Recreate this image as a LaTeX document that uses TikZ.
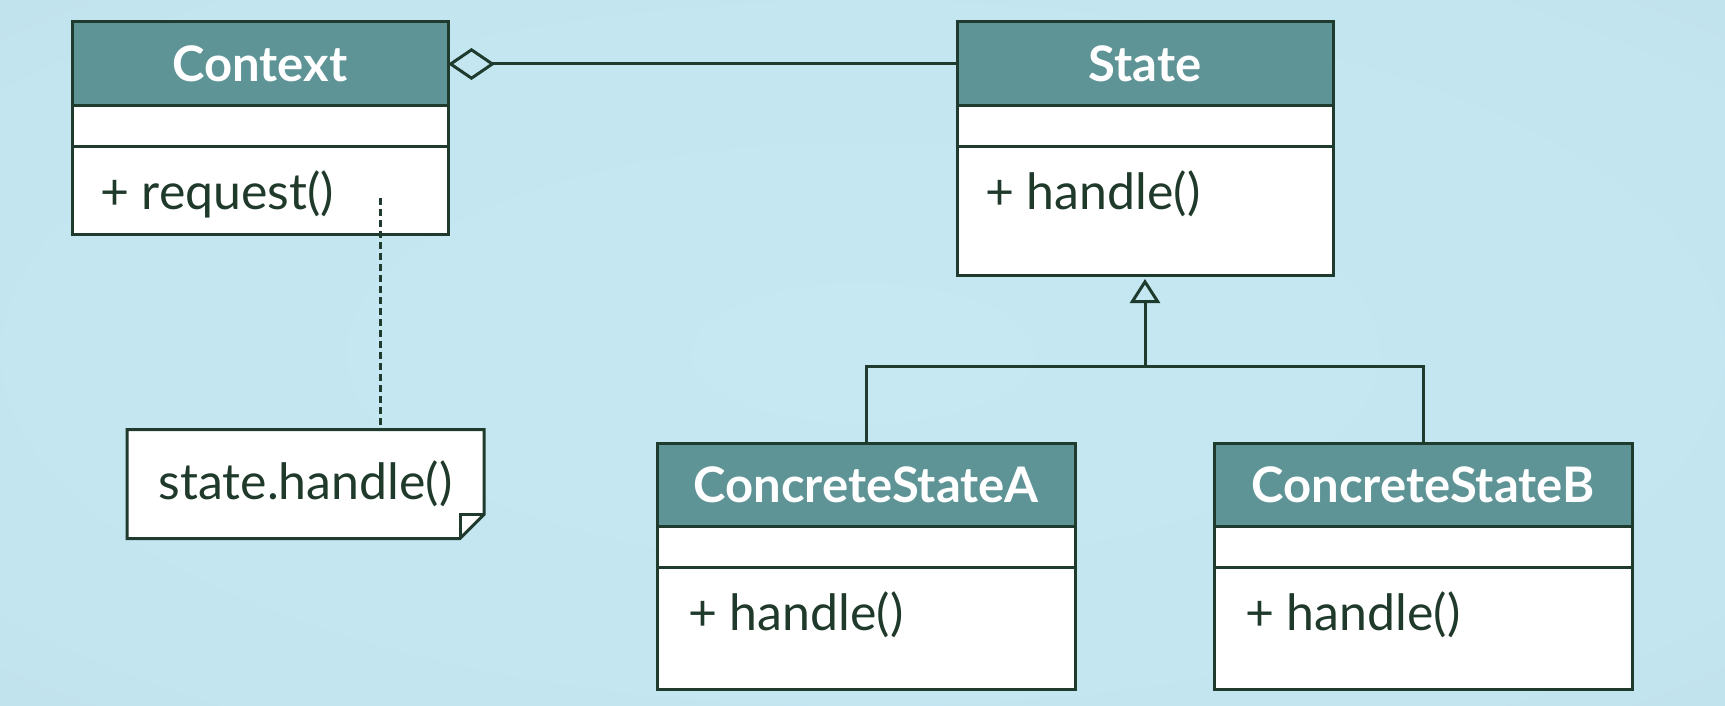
\documentclass[tikz,border=0pt]{standalone}
\usepackage{fontspec}
\setmainfont{Lato}
\usetikzlibrary{arrows.meta,calc,backgrounds}
\definecolor{linec}{HTML}{1E3B2D}
\definecolor{headc}{HTML}{5F9497}
\definecolor{textc}{HTML}{1F3A2B}
\definecolor{bgA}{HTML}{C6E8F3}
\definecolor{bgB}{HTML}{C3E5F0}
\definecolor{bgC}{HTML}{B9DAE5}
\definecolor{bgD}{HTML}{AFD0DB}
\pgfdeclareradialshading{bgshade}{\pgfpoint{0bp}{0bp}}{%
  color(0bp)=(bgA); color(30bp)=(bgB); color(55bp)=(bgC); color(72bp)=(bgD)}
\begin{document}
\begin{tikzpicture}[x=1pt,y=-1pt,
  every node/.style={inner sep=0pt, outer sep=0pt},
  headbox/.style={draw=linec, line width=3pt, fill=headc, text=white,
    font=\fontsize{49}{55}\selectfont\bfseries, anchor=north west},
  compbox/.style={draw=linec, line width=3pt, fill=white, anchor=north},
  optext/.style={text=textc, font=\fontsize{50}{56}\selectfont, anchor=base west},
  conn/.style={draw=linec, line width=3pt}
]
\useasboundingbox (0,0) rectangle (1725,706);

% Context
\node[headbox, minimum width=376pt, minimum height=84pt] (Ch) at (72,22) {Context};
\node[compbox, minimum width=376pt, minimum height=41pt] (Ca) at (Ch.south) {};
\node[compbox, minimum width=376pt, minimum height=87pt] (Cm) at (Ca.south) {};
\node[optext] (Ct) at ($(Cm.north west)+(28,62)$) {+ request()};

% State
\node[headbox, minimum width=376pt, minimum height=84pt] (Sh) at (957,22) {State};
\node[compbox, minimum width=376pt, minimum height=41pt] (Sa) at (Sh.south) {};
\node[compbox, minimum width=376pt, minimum height=128pt] (Sm) at (Sa.south) {};
\node[optext] (St) at ($(Sm.north west)+(28,62)$) {+ handle()};

% ConcreteStateA
\node[headbox, minimum width=418pt, minimum height=83pt] (Ah) at (657,443) {ConcreteStateA};
\node[compbox, minimum width=418pt, minimum height=41pt] (Aa) at (Ah.south) {};
\node[compbox, minimum width=418pt, minimum height=122pt] (Am) at (Aa.south) {};
\node[optext] (At) at ($(Am.north west)+(31,63)$) {+ handle()};

% ConcreteStateB
\node[headbox, minimum width=418pt, minimum height=83pt] (Bh) at (1214,443) {ConcreteStateB};
\node[compbox, minimum width=418pt, minimum height=41pt] (Ba) at (Bh.south) {};
\node[compbox, minimum width=418pt, minimum height=122pt] (Bm) at (Ba.south) {};
\node[optext] (Bt) at ($(Bm.north west)+(31,63)$) {+ handle()};

% Note
\node[minimum width=357pt, minimum height=109pt, text=textc,
  font=\fontsize{50}{56}\selectfont] (note) at (305.5,484) {state.handle()};
\begin{scope}[on background layer]
\shade[shading=bgshade] (0,0) rectangle (1725,706);
\draw[conn, fill=white, line join=miter] (note.north west) -- (note.north east)
  -- ([yshift=24pt]note.south east) -- ([xshift=-24pt]note.south east)
  -- (note.south west) -- cycle;
\draw[conn] ([xshift=-24pt]note.south east) -- ([xshift=-24pt,yshift=24pt]note.south east)
  -- ([yshift=24pt]note.south east);
\end{scope}

% aggregation
\draw[conn, -{Diamond[open, length=47pt, width=32pt, line width=3pt]}] (Sh.west) -- (Ch.east);

% dotted note link
\coordinate (cdot) at (380,198);
\draw[draw=linec, line width=3pt, dash pattern=on 7pt off 4pt] (cdot) -- (cdot |- note.north);

% inheritance
\coordinate (junc) at (1145,366);
\draw[conn] (Ah.north) |- (junc) -| (Bh.north);
\draw[conn, shorten >=4pt, -{Triangle[open, length=24pt, width=30pt, line width=3pt]}] (junc) -- (Sm.south);
\end{tikzpicture}
\end{document}
